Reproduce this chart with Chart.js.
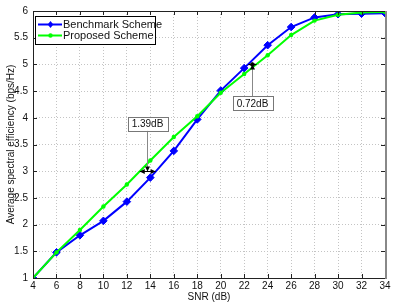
<!DOCTYPE html>
<html>
<head>
<meta charset="utf-8">
<script src="https://cdn.jsdelivr.net/npm/chart.js@4/dist/chart.umd.min.js"></script>
<style>
  html, body { margin: 0; padding: 0; background: #fff; }
  #wrap { width: 409px; height: 305px; }
</style>
</head>
<body>
<div id="wrap"><canvas id="chart" width="409" height="305"></canvas></div>
<script>
// SNR (dB) en el eje x
const SNR = [4, 6, 8, 10, 12, 14, 16, 18, 20, 22, 24, 26, 28, 30, 32, 34];

// eficiencia espectral media (bps/Hz)
const BENCHMARK = [1.00, 1.48, 1.80, 2.07, 2.43, 2.88, 3.38, 3.97, 4.51, 4.93, 5.36, 5.70, 5.88, 5.94, 5.95, 5.96];
const PROPOSED  = [1.00, 1.48, 1.90, 2.34, 2.75, 3.20, 3.64, 4.03, 4.47, 4.82, 5.17, 5.55, 5.82, 5.93, 5.97, 5.98];

const SERIES_LABELS = ['Benchmark Scheme', 'Proposed Scheme'];

// anotaciones de ganancia: texto, caja (x,y), flecha (y, desde x, hasta x)
const GAP_LABELS = ['1.39dB', '0.72dB'];
const GAP_BOX    = [[13.75, 3.89], [22.7, 4.27]];
const GAP_ARROW  = [[3.0, 13.1, 14.45], [5.0, 22.35, 23.05]];

const FONT = '"Liberation Sans", Arial, Helvetica, sans-serif';

function arrowHead(ctx, x, y, dir) {
  // dir: 'l','r','u','d' — la punta queda en (x,y)
  const L = 5, W = 2.5;
  ctx.beginPath();
  ctx.moveTo(x, y);
  if (dir === 'l') { ctx.lineTo(x + L, y - W); ctx.lineTo(x + L, y + W); }
  if (dir === 'r') { ctx.lineTo(x - L, y - W); ctx.lineTo(x - L, y + W); }
  if (dir === 'u') { ctx.lineTo(x - W, y + L); ctx.lineTo(x + W, y + L); }
  if (dir === 'd') { ctx.lineTo(x - W, y - L); ctx.lineTo(x + W, y - L); }
  ctx.closePath();
  ctx.fill();
}

const decorPlugin = {
  id: 'decor',
  afterDatasetsDraw(chart) {
    const { ctx, chartArea: a, scales: { x, y } } = chart;
    ctx.save();

    // ticks hacia adentro en los cuatro lados
    ctx.strokeStyle = '#222';
    ctx.lineWidth = 1;
    ctx.beginPath();
    x.ticks.forEach(t => {
      const px = Math.round(x.getPixelForValue(t.value)) + 0.5;
      ctx.moveTo(px, a.bottom); ctx.lineTo(px, a.bottom - 4);
      ctx.moveTo(px, a.top); ctx.lineTo(px, a.top + 4);
    });
    y.ticks.forEach(t => {
      const py = Math.round(y.getPixelForValue(t.value)) + 0.5;
      ctx.moveTo(a.left, py); ctx.lineTo(a.left + 4, py);
      ctx.moveTo(a.right, py); ctx.lineTo(a.right - 4, py);
    });
    ctx.stroke();

    // marco
    ctx.strokeStyle = '#222';
    ctx.strokeRect(Math.round(a.left) + 0.5, Math.round(a.top) + 0.5,
                   Math.round(a.right - a.left), Math.round(a.bottom - a.top));
    ctx.strokeStyle = '#888';
    ctx.lineWidth = 2;
    ctx.beginPath();
    ctx.moveTo(Math.round(a.right) + 1, a.top);
    ctx.lineTo(Math.round(a.right) + 1, a.bottom + 1);
    ctx.stroke();

    // anotaciones
    ctx.font = '10px ' + FONT;
    ctx.textAlign = 'center';
    ctx.textBaseline = 'middle';
    GAP_LABELS.forEach((txt, i) => {
      const bx = Math.round(x.getPixelForValue(GAP_BOX[i][0])) + 0.5;
      const by = y.getPixelForValue(GAP_BOX[i][1]);
      const ay = Math.round(y.getPixelForValue(GAP_ARROW[i][0])) + 0.5;
      const ax1 = x.getPixelForValue(GAP_ARROW[i][1]);
      const ax2 = x.getPixelForValue(GAP_ARROW[i][2]);
      const w = ctx.measureText(txt).width + 8, h = 14;
      const down = ay > by;

      ctx.strokeStyle = '#888';
      ctx.lineWidth = 1;
      ctx.beginPath();
      ctx.moveTo(bx, down ? by + h / 2 : by - h / 2);
      ctx.lineTo(bx, ay);
      ctx.stroke();

      ctx.fillStyle = '#000';
      ctx.strokeStyle = '#000';
      ctx.beginPath();
      ctx.moveTo(ax1, ay); ctx.lineTo(ax2, ay);
      ctx.stroke();
      arrowHead(ctx, ax1, ay, 'l');
      arrowHead(ctx, ax2, ay, 'r');
      arrowHead(ctx, bx, ay, down ? 'd' : 'u');

      ctx.fillStyle = '#fff';
      ctx.fillRect(bx - w / 2, by - h / 2, w, h);
      ctx.strokeStyle = '#777';
      ctx.strokeRect(Math.round(bx - w / 2) + 0.5, Math.round(by - h / 2) + 0.5, Math.round(w), h);
      ctx.fillStyle = '#111';
      ctx.fillText(txt, bx, by + 0.5);
    });

    // leyenda
    const lx = a.left + 2, ly = a.top + 5, lw = 120, lh = 28;
    ctx.fillStyle = '#fff';
    ctx.fillRect(lx, ly, lw, lh);
    ctx.strokeStyle = '#000';
    ctx.lineWidth = 1;
    ctx.strokeRect(lx + 0.5, ly + 0.5, lw, lh);
    ctx.font = '11px ' + FONT;
    ctx.textAlign = 'left';
    chart.data.datasets.forEach((ds, i) => {
      const ry = Math.round(ly + 8 + i * 11) + 0.5;
      ctx.strokeStyle = ds.borderColor;
      ctx.lineWidth = 2;
      ctx.beginPath();
      ctx.moveTo(lx + 3, ry); ctx.lineTo(lx + 27, ry);
      ctx.stroke();
      ctx.fillStyle = ds.borderColor;
      const r = i === 0 ? 3.5 : 2.2;
      const cx = lx + 15.5;
      ctx.beginPath();
      if (i === 0) {
        ctx.moveTo(cx, ry - r); ctx.lineTo(cx + r * 0.8, ry);
        ctx.lineTo(cx, ry + r); ctx.lineTo(cx - r * 0.8, ry);
      } else {
        ctx.arc(cx, ry, r, 0, Math.PI * 2);
      }
      ctx.fill();
      ctx.fillStyle = '#111';
      ctx.fillText(ds.label, lx + 28, ry + 0.5);
    });

    ctx.restore();
  }
};

new Chart(document.getElementById('chart'), {
  type: 'line',
  data: {
    datasets: [
      {
        label: SERIES_LABELS[0],
        data: SNR.map((s, i) => ({ x: s, y: BENCHMARK[i] })),
        borderColor: '#0000ff',
        backgroundColor: '#0000ff',
        borderWidth: 2,
        pointStyle: 'rectRot',
        pointRadius: 3.8,
        pointBorderWidth: 1,
        tension: 0,
        order: 1,
      },
      {
        label: SERIES_LABELS[1],
        data: SNR.map((s, i) => ({ x: s, y: PROPOSED[i] })),
        borderColor: '#00ff00',
        backgroundColor: '#00ff00',
        borderWidth: 2,
        pointStyle: 'circle',
        pointRadius: 2.2,
        pointBorderWidth: 0,
        tension: 0,
        order: 0,
      }
    ]
  },
  options: {
    responsive: false,
    animation: false,
    events: [],
    layout: { padding: { left: 0, top: 8, right: 24, bottom: 0 } },
    plugins: { legend: { display: false }, tooltip: { enabled: false } },
    scales: {
      x: {
        type: 'linear',
        min: 4, max: 34,
        afterFit: s => { s.height = 27; },
        ticks: { stepSize: 2, padding: 2, color: '#111', font: { size: 10, family: FONT } },
        grid: { color: '#c4c4c4', drawTicks: false },
        border: { display: false, dash: [1, 2] },
        title: { display: true, text: 'SNR (dB)', color: '#111', padding: { top: 0, bottom: 2 }, font: { size: 10, family: FONT } }
      },
      y: {
        min: 1, max: 6,
        afterFit: s => { s.width = 33; },
        ticks: { stepSize: 0.5, padding: 5, color: '#111', font: { size: 10, family: FONT },
                 callback: v => String(v) },
        grid: { color: '#c4c4c4', drawTicks: false },
        border: { display: false, dash: [1, 2] },
        title: { display: true, text: 'Average spectral efficiency (bps/Hz)', color: '#111', padding: { top: 5, bottom: 0 }, font: { size: 10, family: FONT } }
      }
    }
  },
  plugins: [decorPlugin]
});
</script>
</body>
</html>
